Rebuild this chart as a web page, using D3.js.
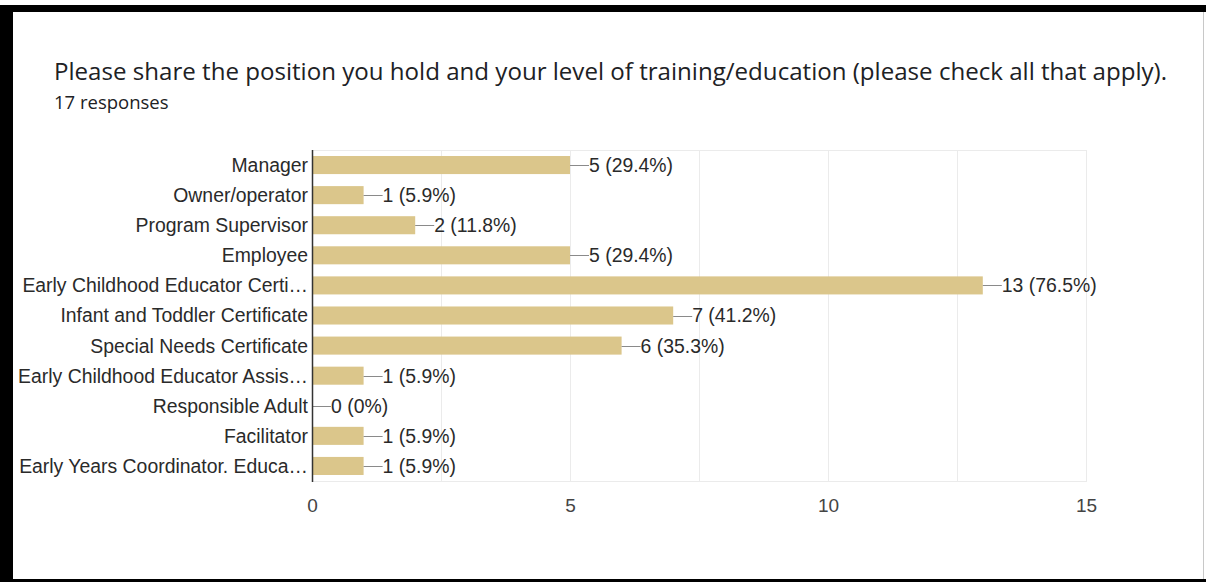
<!DOCTYPE html>
<meta charset="utf-8">
<style>
    body { margin: 0; background: #fff; }
    .title { font: 24.1px "Open Sans", Roboto, sans-serif; fill: #202124; }
    .sub { font: 18.5px "Open Sans", Roboto, sans-serif; fill: #202124; }
    .lbl { font: 19.4px "Liberation Sans", Arial, sans-serif; fill: #2a2a2a; }
    .tick text { font: 19px "Liberation Sans", Arial, sans-serif; fill: #444; }
    .tick text.cat { font: 19.4px "Liberation Sans", Arial, sans-serif; fill: #2a2a2a; }
</style>
<svg width="1206" height="582"></svg>
<script src="https://d3js.org/d3.v7.min.js"></script>
<script>

    var categories = ["Manager", "Owner/operator", "Program Supervisor", "Employee",
        "Early Childhood Educator Certi\u2026", "Infant and Toddler Certificate",
        "Special Needs Certificate", "Early Childhood Educator Assis\u2026",
        "Responsible Adult", "Facilitator", "Early Years Coordinator. Educa\u2026"];
    var counts = [5, 1, 2, 5, 13, 7, 6, 1, 0, 1, 1];
    var percents = ["29.4%", "5.9%", "11.8%", "29.4%", "76.5%", "41.2%", "35.3%", "5.9%", "0%", "5.9%", "5.9%"];
    var xTicks = [0, 5, 10, 15];
    var gridTicks = [2.5, 5, 7.5, 10, 12.5, 15];

    var svg = d3.select("svg");

    // frame
    svg.append("rect").attr("x", 0).attr("y", 5).attr("width", 1206).attr("height", 7).attr("fill", "#000");
    svg.append("rect").attr("x", 0).attr("y", 5).attr("width", 13).attr("height", 577).attr("fill", "#000");
    svg.append("rect").attr("x", 0).attr("y", 579).attr("width", 1206).attr("height", 3).attr("fill", "#000");
    svg.append("rect").attr("x", 1203).attr("y", 12).attr("width", 1).attr("height", 567).attr("fill", "#c8c8c8");

    svg.append("text").attr("class", "title").attr("x", 54).attr("y", 80)
        .text("Please share the position you hold and your level of training/education (please check all that apply).");
    svg.append("text").attr("class", "sub").attr("x", 54).attr("y", 109).text("17 responses");

    var pLeft = 312, pRight = 1086, pTop = 150, pBottom = 481;

    var x = d3.scaleLinear().domain([0, 15]).range([pLeft, pRight]);
    var y = d3.scaleBand().domain(categories).range([pTop, pBottom]).paddingInner(0.4).paddingOuter(0.2);

    // grid
    svg.append("g").selectAll("line").data(gridTicks).enter().append("line")
        .attr("x1", function(d) { return x(d) + 0.5; }).attr("x2", function(d) { return x(d) + 0.5; })
        .attr("y1", pTop).attr("y2", pBottom)
        .attr("stroke", "#ebebeb");
    svg.append("line").attr("x1", pLeft).attr("x2", pRight + 1).attr("y1", pTop + 0.5).attr("y2", pTop + 0.5).attr("stroke", "#ebebeb");
    svg.append("line").attr("x1", pLeft).attr("x2", pRight + 1).attr("y1", pBottom + 0.5).attr("y2", pBottom + 0.5).attr("stroke", "#ebebeb");

    // bars
    var rows = svg.append("g").selectAll("g").data(categories).enter().append("g");

    rows.append("rect")
        .attr("x", x(0))
        .attr("y", function(d) { return y(d); })
        .attr("width", function(d, i) { return x(counts[i]) - x(0); })
        .attr("height", y.bandwidth())
        .attr("fill", "#dbc68b");

    rows.append("line")
        .attr("x1", function(d, i) { return x(counts[i]); })
        .attr("x2", function(d, i) { return x(counts[i]) + 19; })
        .attr("y1", function(d) { return Math.round(y(d) + y.bandwidth() / 2) + 0.5; })
        .attr("y2", function(d) { return Math.round(y(d) + y.bandwidth() / 2) + 0.5; })
        .attr("stroke", "#8a8a8a");

    rows.append("text").attr("class", "lbl")
        .attr("x", function(d, i) { return x(counts[i]) + 19; })
        .attr("y", function(d) { return y(d) + y.bandwidth() / 2; })
        .attr("dy", "0.36em")
        .text(function(d, i) { return counts[i] + " (" + percents[i] + ")"; });

    // category axis
    var yAxis = svg.append("g").attr("transform", "translate(" + pLeft + ",0)")
        .call(d3.axisLeft(y).tickSize(0).tickPadding(4));
    yAxis.select(".domain").remove();
    yAxis.selectAll("text").attr("class", "cat").attr("dy", "0.36em");
    svg.append("line").attr("x1", pLeft + 0.5).attr("x2", pLeft + 0.5).attr("y1", pTop).attr("y2", pBottom + 1)
        .attr("stroke", "#333").attr("stroke-width", 1.5);

    // value axis
    var xAxis = svg.append("g").attr("transform", "translate(0," + (pBottom + 14) + ")")
        .call(d3.axisBottom(x).tickValues(xTicks).tickSize(0).tickPadding(3));
    xAxis.select(".domain").remove();

</script>
